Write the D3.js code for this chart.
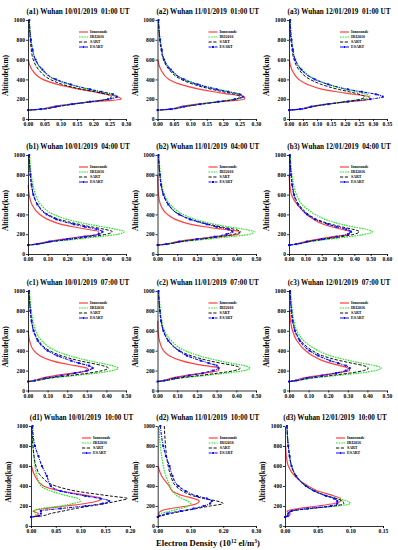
<!DOCTYPE html>
<html><head><meta charset="utf-8">
<script src="https://cdn.jsdelivr.net/npm/d3@7"></script>
<style>
body{margin:0;background:#fff}
svg{display:block}
text{font-family:"Liberation Serif","Times New Roman",serif;font-weight:bold}
</style>
</head><body>
<svg id="chart" width="398" height="550"></svg>
<script>
// ---------------- DATA ----------------
const ALT = [90, 100, 125, 150, 175, 200, 225, 250, 275, 300, 350, 400, 500, 600, 700, 800, 1000];
const SERIES = ["Ionosonde", "IRI2016", "SART", "ESART"];
const Y_TICKS = [0, 200, 400, 600, 800, 1000];
const TITLES = [
  "(a1) Wuhan 10/01/2019  01:00 UT", "(a2) Wuhan 11/01/2019  01:00 UT", "(a3) Wuhan 12/01/2019  01:00 UT",
  "(b1) Wuhan 10/01/2019  04:00 UT", "(b2) Wuhan 11/01/2019  04:00 UT", "(b3) Wuhan 12/01/2019  04:00 UT",
  "(c1) Wuhan 10/01/2019  07:00 UT", "(c2) Wuhan 11/01/2019  07:00 UT", "(c3) Wuhan 12/01/2019  07:00 UT",
  "(d1) Wuhan 10/01/2019  10:00 UT", "(d2) Wuhan 11/01/2019  10:00 UT", "(d3) Wuhan 12/01/2019  10:00 UT"
];
const X_MAX  = [0.30, 0.30, 0.35, 0.50, 0.50, 0.60, 0.50, 0.50, 0.50, 0.20, 0.30, 0.15];
const X_STEP = [0.05, 0.05, 0.05, 0.10, 0.10, 0.10, 0.10, 0.10, 0.10, 0.05, 0.10, 0.05];
const X_LABEL = "Electron Density (10";
const X_LABEL_SUP = "12";
const X_LABEL_END = " el/m";
const X_LABEL_SUP2 = "3";
const Y_LABEL = "Altitude(km)";

const a1_iono  = [0, .040, .075, .130, .200, .285, .275, .240, .200, .160, .090, .045, .012, .001, null, null, null];
const a1_iri   = [0, .040, .085, .135, .190, .245, .270, .255, .220, .185, .125, .082, .042, .022, .014, .009, .004];
const a1_sart  = [0, .045, .090, .140, .195, .245, .255, .240, .205, .165, .105, .068, .032, .016, .010, .007, .003];
const a1_esart = [0, .040, .085, .135, .190, .245, .272, .260, .225, .190, .130, .085, .044, .023, .014, .009, .004];

const a2_iono  = [0, .040, .070, .120, .190, .265, .265, .220, .170, .130, .070, .035, .010, .001, null, null, null];
const a2_iri   = [0, .040, .080, .130, .185, .235, .260, .250, .220, .185, .125, .082, .040, .020, .013, .008, .003];
const a2_sart  = [0, .045, .085, .135, .190, .240, .250, .235, .200, .165, .110, .072, .035, .018, .011, .007, .003];
const a2_esart = [0, .040, .080, .130, .185, .235, .260, .250, .215, .180, .122, .080, .040, .020, .013, .008, .003];

const a3_iono  = [0, .040, .075, .130, .210, .290, .285, .230, .170, .120, .065, .035, .010, .001, null, null, null];
const a3_iri   = [0, .040, .080, .140, .200, .260, .290, .275, .240, .200, .140, .095, .045, .022, .014, .009, .004];
const a3_sart  = [0, .045, .085, .140, .200, .255, .270, .250, .215, .175, .115, .075, .035, .018, .011, .007, .003];
const a3_esart = [0, .040, .080, .140, .210, .290, .335, .310, .260, .210, .140, .092, .044, .022, .014, .009, .004];

const b1_iono  = [0, .040, .100, .180, .270, .360, .360, .300, .230, .170, .100, .060, .020, .006, .001, null, null];
const b1_iri   = [0, .050, .130, .250, .360, .460, .490, .450, .380, .310, .200, .130, .065, .038, .025, .017, .008];
const b1_sart  = [0, .050, .120, .220, .320, .400, .430, .390, .320, .260, .160, .100, .050, .028, .018, .012, .006];
const b1_esart = [0, .045, .110, .200, .290, .360, .380, .350, .290, .235, .145, .095, .048, .027, .018, .012, .006];

const b2_iono  = [0, .040, .100, .190, .300, .410, .420, .330, .240, .170, .090, .050, .015, .005, .002, .001, null];
const b2_iri   = [0, .050, .130, .250, .370, .470, .490, .440, .360, .290, .190, .130, .065, .035, .022, .015, .007];
const b2_sart  = [0, .050, .120, .220, .320, .390, .420, .390, .320, .260, .170, .110, .055, .030, .018, .012, .005];
const b2_esart = [0, .045, .110, .200, .290, .350, .380, .360, .300, .250, .165, .110, .055, .030, .018, .012, .005];

const b3_iono  = [0, .040, .100, .180, .270, .370, .370, .320, .260, .210, .150, .110, .050, .015, .005, .001, null];
const b3_iri   = [0, .050, .130, .250, .370, .470, .510, .470, .390, .320, .220, .160, .080, .045, .028, .018, .008];
const b3_sart  = [0, .050, .120, .220, .320, .400, .430, .390, .320, .260, .170, .120, .060, .032, .020, .013, .006];
const b3_esart = [0, .045, .110, .200, .290, .360, .380, .350, .290, .240, .160, .110, .055, .030, .019, .012, .005];

const c1_iono  = [0, .030, .070, .140, .230, .310, .300, .240, .170, .120, .060, .030, .008, .001, null, null, null];
const c1_iri   = [0, .040, .120, .240, .350, .430, .460, .430, .370, .310, .210, .140, .070, .040, .025, .017, .008];
const c1_sart  = [0, .040, .110, .210, .310, .380, .410, .380, .320, .260, .170, .110, .055, .030, .018, .012, .005];
const c1_esart = [0, .035, .090, .170, .240, .300, .330, .310, .260, .220, .150, .100, .050, .028, .018, .012, .005];

const c2_iono  = [0, .030, .070, .140, .230, .310, .310, .240, .170, .120, .060, .030, .010, .003, .001, null, null];
const c2_iri   = [0, .040, .120, .240, .350, .440, .470, .440, .370, .310, .210, .140, .070, .035, .022, .015, .007];
const c2_sart  = [0, .040, .110, .210, .310, .390, .420, .390, .320, .260, .170, .110, .055, .030, .018, .012, .005];
const c2_esart = [0, .035, .090, .160, .230, .280, .310, .300, .260, .220, .150, .110, .055, .030, .018, .012, .005];

const c3_iono  = [0, .030, .070, .150, .240, .310, .300, .260, .210, .170, .120, .085, .040, .018, .008, .003, null];
const c3_iri   = [0, .040, .120, .240, .360, .440, .470, .440, .370, .310, .210, .150, .075, .040, .025, .017, .008];
const c3_sart  = [0, .040, .110, .210, .310, .380, .405, .380, .320, .260, .170, .120, .060, .032, .020, .013, .006];
const c3_esart = [0, .035, .090, .170, .240, .290, .310, .290, .250, .210, .150, .105, .055, .030, .018, .012, .005];

const d1_iono  = [0, .010, .015, .004, .030, .070, .110, .135, .143, .120, .060, .025, .008, .001, null, null, null];
const d1_iri   = [0, .008, .010, .006, .020, .060, .085, .100, .095, .075, .040, .020, .012, .008, .006, .004, .002];
const d1_sart  = [0, .020, .040, .065, .090, .120, .150, .175, .195, .160, .090, .050, .020, .010, .006, .004, .002];
const d1_esart = [0, .015, .020, .020, .060, .110, .145, .158, .140, .110, .060, .040, .032, .022, .015, .008, .003];

const d2_iono  = [0, .005, .003, .010, .040, .090, .120, .127, .110, .080, .045, .035, .012, .001, null, null, null];
const d2_iri   = [0, .003, .010, .040, .070, .095, .100, .090, .075, .060, .045, .038, .025, .017, .012, .008, .004];
const d2_sart  = [0, .010, .040, .080, .120, .160, .200, .180, .140, .110, .075, .055, .040, .032, .027, .024, .020];
const d2_esart = [0, .005, .030, .070, .110, .140, .160, .165, .150, .120, .085, .063, .045, .036, .025, .017, .008];

const d3_iono  = [0, .006, .008, .003, .020, .050, .075, .085, .085, .075, .050, .035, .015, .005, .002, .001, null];
const d3_iri   = [0, .004, .005, .010, .040, .080, .100, .095, .080, .065, .045, .032, .017, .010, .007, .005, .003];
const d3_sart  = [0, .004, .005, .010, .040, .075, .090, .088, .078, .065, .045, .032, .017, .010, .007, .005, .003];
const d3_esart = [0, .004, .005, .010, .035, .070, .080, .080, .075, .063, .045, .032, .017, .010, .007, .005, .003];

const PANEL_DATA = [
  [a1_iono, a1_iri, a1_sart, a1_esart], [a2_iono, a2_iri, a2_sart, a2_esart], [a3_iono, a3_iri, a3_sart, a3_esart],
  [b1_iono, b1_iri, b1_sart, b1_esart], [b2_iono, b2_iri, b2_sart, b2_esart], [b3_iono, b3_iri, b3_sart, b3_esart],
  [c1_iono, c1_iri, c1_sart, c1_esart], [c2_iono, c2_iri, c2_sart, c2_esart], [c3_iono, c3_iri, c3_sart, c3_esart],
  [d1_iono, d1_iri, d1_sart, d1_esart], [d2_iono, d2_iri, d2_sart, d2_esart], [d3_iono, d3_iri, d3_sart, d3_esart]
];

// ---------------- LAYOUT / STYLE ----------------
const ROWS = [[20, 119], [155, 254], [291, 390.5], [426, 526]];
const COLS = [[28, 126], [157.5, 256], [289, 387]];
const COLS_D = [[31, 130], [157.7, 256], [285, 383]];
const STYLES = [
  {color: "#ff4040", dash: null, width: 1.2},
  {color: "#22e822", dash: "1.6,1", width: 1.2},
  {color: "#111111", dash: "3.2,1.6", width: 1.0},
  {color: "#0a0aff", dash: "3,1,1,1", width: 1.1}
];

const svg = d3.select("#chart");

PANEL_DATA.forEach((series, i) => {
  const r = Math.floor(i / 3), c = i % 3;
  const [top, bottom] = ROWS[r];
  const [left, right] = (r === 3 ? COLS_D : COLS)[c];
  const x = d3.scaleLinear().domain([0, X_MAX[i]]).range([left, right]);
  const y = d3.scaleLinear().domain([0, 1000]).range([bottom, top]);
  const g = svg.append("g");

  // title
  g.append("text").attr("x", (left + right) / 2 + 1).attr("y", top - 6)
    .attr("text-anchor", "middle").attr("font-size", 7.2)
    .style("white-space", "pre").text(TITLES[i]);

  // y label
  g.append("text")
    .attr("transform", `translate(${left - 20},${(top + bottom) / 2 + 6}) rotate(-90)`)
    .attr("text-anchor", "middle").attr("font-size", 7.4).text(Y_LABEL);

  // series lines
  series.forEach((vals, s) => {
    const pts = ALT.map((a, k) => [vals[k], a]).filter(p => p[0] !== null).reverse();
    const line = d3.line().x(p => x(p[0])).y(p => y(p[1])).curve(d3.curveMonotoneY);
    const st = STYLES[s];
    g.append("path").attr("d", line(pts)).attr("fill", "none")
      .attr("stroke", st.color).attr("stroke-width", st.width)
      .attr("stroke-dasharray", st.dash);
    if (s === 3) {
      g.selectAll(null).data(pts).enter().append("rect")
        .attr("x", p => x(p[0]) - 1).attr("y", p => y(p[1]) - 1)
        .attr("width", 2).attr("height", 2).attr("fill", st.color);
    }
  });

  // axes
  const nt = Math.round(X_MAX[i] / X_STEP[i]);
  const xt = d3.range(nt + 1).map(k => k * X_STEP[i]);
  const ax = g.append("g").attr("transform", `translate(0,${bottom})`)
    .call(d3.axisBottom(x).tickValues(xt).tickSize(2).tickPadding(1.5).tickFormat(d3.format(".2f")));
  const ay = g.append("g").attr("transform", `translate(${left},0)`)
    .call(d3.axisLeft(y).tickValues(Y_TICKS).tickSize(2).tickPadding(1).tickSizeOuter(0).tickFormat(d3.format("d")));
  [ax, ay].forEach(a => {
    a.selectAll("text").attr("font-size", 5.6).attr("font-family", '"Liberation Serif",serif').attr("font-weight", "bold").attr("fill", "#000");
    a.selectAll("path,line").attr("stroke", "#000").attr("stroke-width", 0.8);
  });

  // legend
  series.forEach((vals, s) => {
    const ly = top + 12 + s * 5;
    const st = STYLES[s];
    g.append("line").attr("x1", left + 51).attr("x2", left + 60).attr("y1", ly).attr("y2", ly)
      .attr("stroke", st.color).attr("stroke-width", st.width).attr("stroke-dasharray", st.dash);
    if (s === 3) g.append("rect").attr("x", left + 54.5).attr("y", ly - 1).attr("width", 2).attr("height", 2).attr("fill", st.color);
    g.append("text").attr("x", left + 62).attr("y", ly + 1.3).attr("font-size", 4).text(SERIES[s]);
  });
});

// shared x label
const xl = svg.append("text").attr("x", 208).attr("y", 546).attr("text-anchor", "middle").attr("font-size", 8.6);
xl.append("tspan").text(X_LABEL);
xl.append("tspan").attr("dy", -3).attr("font-size", 5.5).text(X_LABEL_SUP);
xl.append("tspan").attr("dy", 3).text(X_LABEL_END);
xl.append("tspan").attr("dy", -3).attr("font-size", 5.5).text(X_LABEL_SUP2);
xl.append("tspan").attr("dy", 3).text(")");
</script>
</body></html>
